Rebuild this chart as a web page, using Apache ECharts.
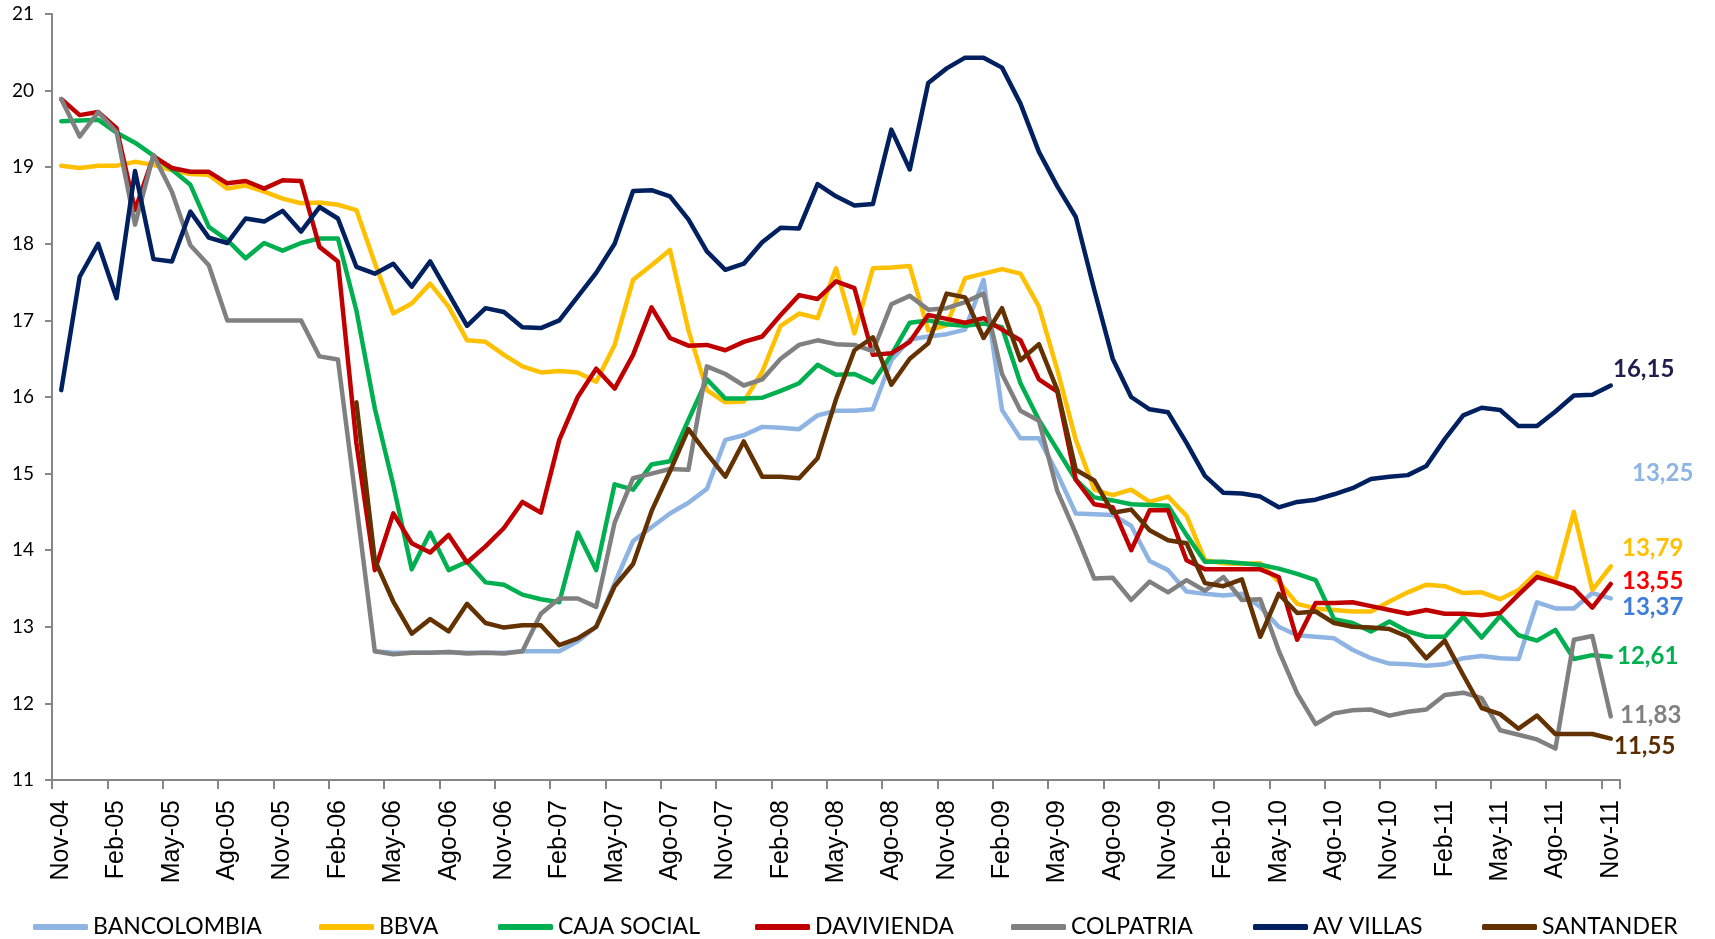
<!DOCTYPE html>
<html>
<head>
<meta charset="utf-8">
<script src="https://cdn.jsdelivr.net/npm/echarts@6/dist/echarts.min.js"></script>
<style>
html,body{margin:0;padding:0;background:#fff;}
#chart{width:1715px;height:939px;}
</style>
</head>
<body>
<div id="chart"></div>
<script>
const categories = ["Nov-04","Dic-04",
"Ene-05","Feb-05","Mar-05","Abr-05","May-05","Jun-05","Jul-05","Ago-05","Sep-05","Oct-05","Nov-05","Dic-05",
"Ene-06","Feb-06","Mar-06","Abr-06","May-06","Jun-06","Jul-06","Ago-06","Sep-06","Oct-06","Nov-06","Dic-06",
"Ene-07","Feb-07","Mar-07","Abr-07","May-07","Jun-07","Jul-07","Ago-07","Sep-07","Oct-07","Nov-07","Dic-07",
"Ene-08","Feb-08","Mar-08","Abr-08","May-08","Jun-08","Jul-08","Ago-08","Sep-08","Oct-08","Nov-08","Dic-08",
"Ene-09","Feb-09","Mar-09","Abr-09","May-09","Jun-09","Jul-09","Ago-09","Sep-09","Oct-09","Nov-09","Dic-09",
"Ene-10","Feb-10","Mar-10","Abr-10","May-10","Jun-10","Jul-10","Ago-10","Sep-10","Oct-10","Nov-10","Dic-10",
"Ene-11","Feb-11","Mar-11","Abr-11","May-11","Jun-11","Jul-11","Ago-11","Sep-11","Oct-11","Nov-11"];

const bancolombia = [null,null,null,null,null,null,null,null,null,null,
null,null,null,null,null,null,null,12.68,12.66,12.66,
12.66,12.67,12.66,12.66,12.66,12.68,12.68,12.68,12.81,13.00,
13.57,14.12,14.30,14.48,14.62,14.80,15.44,15.50,15.61,15.60,
15.58,15.76,15.82,15.82,15.84,16.48,16.75,16.79,16.82,16.88,
17.53,15.83,15.46,15.46,15.00,14.48,14.47,14.46,14.32,13.86,
13.74,13.46,13.43,13.41,13.43,13.26,13.00,12.89,12.87,12.85,
12.70,12.59,12.52,12.51,12.49,12.51,12.59,12.62,12.59,12.58,
13.32,13.24,13.24,13.44,13.37];

const bbva = [19.02,18.99,19.02,19.02,19.07,19.03,18.96,18.91,18.90,18.72,
18.76,18.68,18.59,18.53,18.54,18.51,18.44,17.75,17.09,17.22,
17.48,17.18,16.74,16.72,16.55,16.40,16.32,16.34,16.32,16.20,
16.68,17.53,17.72,17.92,16.87,16.09,15.93,15.94,16.33,16.93,
17.09,17.03,17.68,16.83,17.68,17.69,17.71,16.87,16.94,17.55,
17.61,17.67,17.61,17.18,16.35,15.44,14.79,14.72,14.79,14.63,
14.70,14.45,13.87,13.83,13.82,13.83,13.59,13.30,13.24,13.22,
13.20,13.20,13.33,13.45,13.55,13.53,13.44,13.45,13.36,13.48,
13.71,13.61,14.50,13.48,13.79];

const cajaSocial = [19.60,19.61,19.62,19.45,19.32,19.15,18.97,18.77,18.22,18.05,
17.81,18.01,17.91,18.01,18.07,18.07,17.13,15.85,14.85,13.75,
14.23,13.74,13.85,13.58,13.55,13.42,13.36,13.32,14.23,13.74,
14.86,14.79,15.12,15.16,15.70,16.23,15.98,15.98,15.99,16.08,
16.18,16.42,16.29,16.30,16.19,16.55,16.97,17.00,16.95,16.93,
16.96,16.91,16.18,15.70,15.31,14.92,14.69,14.65,14.60,14.59,
14.58,14.20,13.85,13.85,13.83,13.81,13.76,13.69,13.61,13.10,
13.05,12.94,13.07,12.94,12.87,12.87,13.13,12.86,13.14,12.89,
12.82,12.96,12.58,12.63,12.61];

const davivienda = [19.89,19.68,19.72,19.51,18.44,19.14,18.99,18.94,18.94,18.79,
18.82,18.72,18.83,18.82,17.96,17.77,15.40,13.74,14.48,14.09,
13.97,14.20,13.84,14.05,14.29,14.63,14.49,15.44,16.00,16.37,
16.11,16.55,17.17,16.77,16.67,16.68,16.61,16.72,16.79,17.07,
17.33,17.28,17.51,17.42,16.55,16.57,16.72,17.07,17.02,16.97,
17.03,16.88,16.74,16.23,16.07,14.92,14.60,14.56,14.00,14.52,
14.52,13.87,13.75,13.75,13.75,13.75,13.65,12.83,13.31,13.31,
13.32,13.27,13.22,13.17,13.22,13.17,13.17,13.15,13.18,13.42,
13.65,13.58,13.50,13.25,13.56];

const colpatria = [19.89,19.40,19.72,19.46,18.25,19.16,18.68,17.98,17.72,17.00,
17.00,17.00,17.00,17.00,16.53,16.49,14.60,12.68,12.64,12.66,
12.66,12.67,12.65,12.66,12.65,12.68,13.17,13.37,13.37,13.26,
14.36,14.94,15.00,15.06,15.05,16.40,16.30,16.15,16.23,16.50,
16.68,16.74,16.69,16.68,16.60,17.21,17.32,17.14,17.16,17.24,
17.35,16.30,15.82,15.69,14.77,14.22,13.63,13.64,13.35,13.59,
13.45,13.61,13.47,13.65,13.35,13.36,12.69,12.13,11.73,11.87,
11.91,11.92,11.84,11.89,11.92,12.11,12.14,12.07,11.65,11.59,
11.53,11.41,12.83,12.88,11.83];

const avVillas = [16.09,17.57,18.00,17.29,18.95,17.80,17.77,18.42,18.08,18.01,
18.33,18.29,18.43,18.16,18.48,18.33,17.70,17.61,17.74,17.44,
17.77,17.35,16.93,17.16,17.11,16.91,16.90,17.00,17.31,17.62,
18.00,18.69,18.70,18.62,18.32,17.90,17.66,17.74,18.02,18.21,
18.20,18.78,18.62,18.50,18.52,19.49,18.97,20.10,20.29,20.43,
20.43,20.30,19.83,19.20,18.75,18.35,17.40,16.50,16.00,15.84,
15.80,15.40,14.97,14.75,14.74,14.70,14.56,14.63,14.66,14.73,
14.81,14.93,14.96,14.98,15.10,15.45,15.76,15.86,15.83,15.62,
15.62,15.81,16.02,16.03,16.15];

const santander = [null,null,null,null,null,null,null,null,null,null,
null,null,null,null,null,null,15.93,13.87,13.33,12.91,
13.10,12.94,13.30,13.05,12.99,13.02,13.02,12.76,12.85,13.00,
13.53,13.82,14.51,15.03,15.58,15.26,14.96,15.42,14.96,14.96,
14.94,15.20,15.97,16.61,16.78,16.16,16.50,16.70,17.35,17.30,
16.77,17.16,16.48,16.69,16.09,15.05,14.91,14.49,14.53,14.26,
14.13,14.09,13.57,13.53,13.62,12.87,13.43,13.18,13.20,13.05,
13.00,12.99,12.97,12.87,12.59,12.82,12.37,11.94,11.86,11.67,
11.84,11.60,11.60,11.60,11.54];

const seriesNames = ["BANCOLOMBIA","BBVA","CAJA SOCIAL","DAVIVIENDA","COLPATRIA","AV VILLAS","SANTANDER"];
const seriesData = [bancolombia, bbva, cajaSocial, davivienda, colpatria, avVillas, santander];
const seriesColors = ["#8db4e2","#ffc000","#00b050","#c00000","#808080","#002060","#633200"];

const endLabelTexts = ["16,15","13,25","13,79","13,55","13,37","12,61","11,83","11,55"];
const endLabelColors = ["#241b4f","#8db4e2","#ffc000","#ff0000","#3d7edb","#00b050","#808080","#5a2d00"];

const endLabelPos = [[1613,369],[1632,473],[1622,548],[1622,581],[1622,607],[1617,656],[1620,715],[1614,746]];
const legendLeft = [33,319,498,755,1011,1253,1482];

const chart = echarts.init(document.getElementById('chart'), null, {renderer:'canvas'});

const series = seriesNames.map((n,i)=>({
  name:n, type:'line', data:seriesData[i], showSymbol:false, symbol:'none',
  lineStyle:{color:seriesColors[i], width:4.5, cap:'round', join:'round'},
  itemStyle:{color:seriesColors[i]},
  connectNulls:false, animation:false, z:2+i
}));

const legends = seriesNames.map((n,i)=>({
  data:[n], left:legendLeft[i], top:913, padding:0, icon:'roundRect', itemWidth:55, itemHeight:6,
  itemGap:0, textStyle:{fontFamily:'Lato', fontSize:23, color:'#000', lineHeight:28}
}));

const graphics = endLabelTexts.map((t,i)=>({
  type:'text', x:endLabelPos[i][0], y:endLabelPos[i][1],
  style:{text:t, fill:endLabelColors[i], font:'bold 24px Lato', verticalAlign:'middle', align:'left'}
}));

chart.setOption({
  animation:false,
  backgroundColor:'#ffffff',
  grid:{left:52, right:95, top:14, bottom:159, containLabel:false},
  legend:legends,
  xAxis:{
    type:'category', data:categories, boundaryGap:true,
    axisLine:{lineStyle:{color:'#868686', width:2}},
    axisTick:{show:true, interval:2, length:9, lineStyle:{color:'#868686', width:2}},
    axisLabel:{interval:2, rotate:90, margin:20, fontFamily:'Liberation Sans', fontSize:25, color:'#000'},
    splitLine:{show:false}
  },
  yAxis:{
    type:'value', min:11, max:21, interval:1,
    axisLine:{show:true, lineStyle:{color:'#868686', width:2}},
    axisTick:{show:true, length:7, lineStyle:{color:'#868686', width:2}},
    axisLabel:{margin:18, fontFamily:'Lato', fontSize:19, color:'#000'},
    splitLine:{show:false}
  },
  series:series,
  graphic:graphics
});
</script>
</body>
</html>
